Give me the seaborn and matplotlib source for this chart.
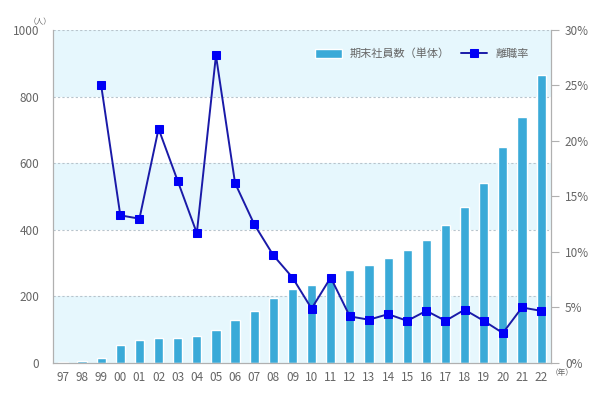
#!/usr/bin/env python3
"""Staff count (bars) and turnover rate (line) by year."""

import numpy as np
import pandas as pd
import matplotlib
matplotlib.use("Agg")
import matplotlib.pyplot as plt
from matplotlib.ticker import FuncFormatter
import seaborn as sns

years = ["97", "98", "99", "00", "01", "02", "03", "04", "05", "06", "07", "08", "09",
         "10", "11", "12", "13", "14", "15", "16", "17", "18", "19", "20", "21", "22"]
staff = [4, 5, 15, 54, 70, 74, 76, 82, 99, 129, 155, 196, 223,
         234, 262, 278, 294, 315, 338, 370, 414, 468, 541, 649, 739, 865]
rate = [np.nan, np.nan, 25.0, 13.3, 13.0, 21.1, 16.4, 11.7, 27.7, 16.2, 12.5, 9.7, 7.7,
        4.9, 7.7, 4.2, 3.9, 4.4, 3.8, 4.7, 3.8, 4.8, 3.8, 2.7, 5.0, 4.7]

BAR_LABEL = "期末社員数（単体）"
LINE_LABEL = "離職率"

GREY = "#666666"
BAR_COLOR = "#3aaad8"
BAND = "#e6f7fd"

sns.set_style("white")
plt.rcParams["font.family"] = ["Noto Sans CJK JP", "DejaVu Sans"]


def main():
    df = pd.DataFrame({"year": years, "staff": staff, "rate": rate})
    df["pos"] = df.index

    fig = plt.figure(figsize=(5.9, 3.99), dpi=100)
    ax = fig.add_axes([0.0898, 0.0902, 0.8442, 0.8348])

    # alternating background bands + dotted grid
    for lo in range(0, 1000, 400):
        ax.axhspan(lo, lo + 200, color=BAND, zorder=0, lw=0)
    for y in range(200, 1001, 200):
        ax.axhline(y, color="#b8c4cc", lw=0.8, ls=(0, (2, 2)), zorder=0.5)

    sns.barplot(data=df, x="year", y="staff", color=BAR_COLOR, width=0.48,
                saturation=1, ax=ax, zorder=2, label=BAR_LABEL)
    ax.set_xlim(-0.52, len(years) - 0.48)
    ax.set_ylim(0, 1000)
    ax.set_yticks(range(0, 1001, 200))
    ax.set_xlabel("")
    ax.set_ylabel("")
    ax.tick_params(axis="both", length=0, labelsize=8.5, labelcolor=GREY, pad=6)
    ax.tick_params(axis="y", pad=10)

    ax2 = ax.twinx()
    sns.lineplot(data=df.dropna(), x="pos", y="rate", ax=ax2, color="#1a1aa8",
                 lw=1.4, marker="s", markersize=5.2, markerfacecolor="#0000f5",
                 markeredgecolor="#0000f5", label=LINE_LABEL, zorder=3)
    ax2.set_ylim(0, 30)
    ax2.set_yticks(range(0, 31, 5))
    ax2.yaxis.set_major_formatter(FuncFormatter(lambda v, _: f"{v:.0f}%"))
    ax2.set_ylabel("")
    ax2.set_xlabel("")
    ax2.tick_params(axis="y", length=6, width=0.8, color="#b0b0b0",
                    labelsize=8.5, labelcolor=GREY, pad=4)

    for a in (ax, ax2):
        for side, sp in a.spines.items():
            sp.set_color("#b0b0b0")
            sp.set_linewidth(0.8)
            sp.set_visible(side in ("left", "right", "bottom"))

    # legend
    h1, l1 = ax.get_legend_handles_labels()
    h2, l2 = ax2.get_legend_handles_labels()
    if ax.get_legend():
        ax.get_legend().remove()
    ax2.legend(h1 + h2, l1 + l2, loc="upper right", bbox_to_anchor=(0.975, 0.975),
               ncol=2, frameon=False, fontsize=8, labelcolor=GREY,
               handlelength=2.4, handleheight=0.9, columnspacing=1.0,
               handletextpad=0.7)

    # unit labels
    fig.text(0.068, 0.945, "（人）", fontsize=5.5, color=GREY, ha="center", va="center")
    fig.text(0.953, 0.065, "（年）", fontsize=5.5, color=GREY, ha="center", va="center")

    fig.savefig("out.png", dpi=100)


if __name__ == "__main__":
    main()
